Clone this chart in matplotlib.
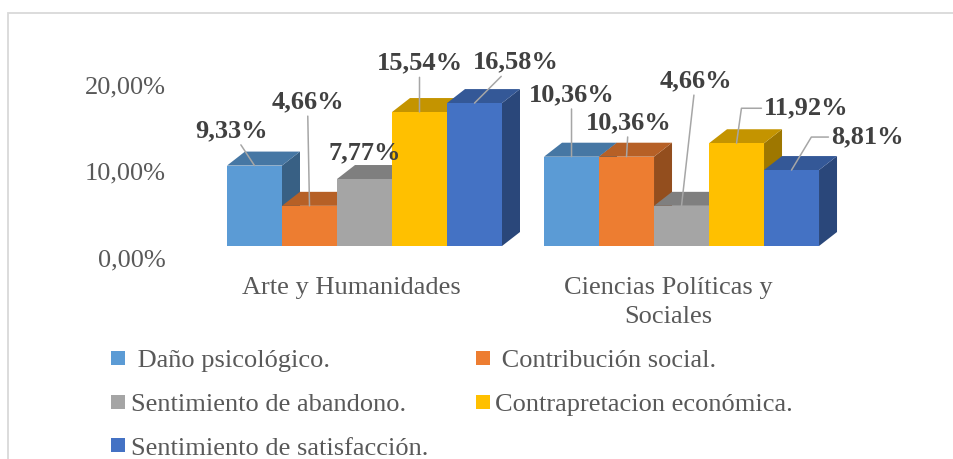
import matplotlib
matplotlib.use('Agg')
import matplotlib.pyplot as plt
import matplotlib.transforms as mtrans
from matplotlib.patches import Polygon, Rectangle
from matplotlib.lines import Line2D
from matplotlib.colors import to_rgb

# data
categories = ['Arte y Humanidades', 'Ciencias Políticas y\nSociales']
series = [' Daño psicológico.', ' Contribución social.', 'Sentimiento de abandono.',
          'Contrapretacion económica.', 'Sentimiento de satisfacción.']
danio = [9.33, 10.36]
contribucion = [4.66, 10.36]
abandono = [7.77, 4.66]
contraprestacion = [15.54, 11.92]
satisfaccion = [16.58, 8.81]
values = [danio, contribucion, abandono, contraprestacion, satisfaccion]
colors = ['#5B9BD5', '#ED7D31', '#A5A5A5', '#FFC000', '#4472C4']
yticks = [0, 10, 20]
ytick_labels = ['0,00%', '10,00%', '20,00%']

# label offsets in pixels from the bar's top-front centre
label_offsets = [[(-23, 35), (0, 62)], [(-2, 104), (2, 34)], [(0, 26), (14, 125)],
                 [(0, 49), (70, 35)], [(41, 41), (76, 33)]]
leader = [['line', 'line'], ['line', 'line'], [None, 'line'],
          ['line', 'angle,angleA=0,angleB=82,rad=0'], ['line', 'angle,angleA=0,angleB=59,rad=0']]

plt.rcParams['font.family'] = ['Liberation Serif', 'DejaVu Serif']
FS = 19
GREY = '#595959'

W, H = 954, 459
fig = plt.figure(figsize=(W / 100, H / 100), dpi=100)
ax = fig.add_axes([180 / W, (H - 246) / H, 720 / W, 206 / H])
px_per_unit = 55.0
ax.set_xlim(-(227 - 180) / px_per_unit, (900 - 227) / px_per_unit)
ax.set_ylim(0, 206 / 8.62)
ax.axis('off')

n = len(series)
gap = 0.764
DX = 18 / 55
DY = 14 / 8.62


def shade(c, f):
    r, g, b = to_rgb(c)
    return (r * f, g * f, b * f)


order = 0
for g in range(len(categories)):
    for s in range(n):
        v = values[s][g]
        x0 = g * (n + gap) + s
        c = colors[s]
        z = 3 * order
        ax.bar(x0, v, width=1, align='edge', color=c, linewidth=0, zorder=z + 2)
        side = Polygon([(x0 + 1, 0), (x0 + 1, v), (x0 + 1 + DX, v + DY), (x0 + 1 + DX, DY)],
                       closed=True, facecolor=shade(c, 0.62), edgecolor='none', zorder=z)
        top = Polygon([(x0, v), (x0 + 1, v), (x0 + 1 + DX, v + DY), (x0 + DX, v + DY)],
                      closed=True, facecolor=shade(c, 0.77), edgecolor='none', zorder=z + 1)
        ax.add_patch(side)
        ax.add_patch(top)
        order += 1

# data labels with leader lines
for g in range(len(categories)):
    for s in range(n):
        v = values[s][g]
        xc = g * (n + gap) + s + 0.5
        kw = {}
        if leader[s][g] is not None:
            ap = dict(arrowstyle='-', color='#A6A6A6', lw=1.1, shrinkA=0, shrinkB=0)
            if leader[s][g] != 'line':
                ap['connectionstyle'] = leader[s][g]
            kw['arrowprops'] = ap
        ax.annotate(('%.2f%%' % v).replace('.', ','), xy=(xc, v), xytext=label_offsets[s][g],
                    textcoords='offset pixels', ha='center', va='center', fontsize=FS,
                    fontweight='bold', color='#404040', zorder=100, **kw)

# y tick labels (sit a little below the front base, like the Excel 3D axis)
tick_tr = mtrans.offset_copy(ax.get_yaxis_transform(), fig=fig, x=-14, y=-14, units='dots')
for t, lab in zip(yticks, ytick_labels):
    ax.text(0, t, lab, transform=tick_tr, ha='right', va='center', fontsize=FS, color=GREY)

# category labels
cat_tr = mtrans.offset_copy(ax.transData, fig=fig, x=-13, y=-31, units='dots')
for g, cat in enumerate(categories):
    xc = g * (n + gap) + n / 2
    ax.text(xc, 0, cat, transform=cat_tr, ha='center', va='top', fontsize=FS,
            color=GREY, linespacing=1.4)

# legend, row-major order like Excel
handles = [Line2D([], [], marker='s', ls='', markersize=10, color=c, markeredgewidth=0)
           for c in colors]
idx = [0, 2, 4, 1, 3]
fig.legend([handles[i] for i in idx], [series[i] for i in idx], loc='upper left',
           bbox_to_anchor=(111 / W, 1 - 349 / H), ncol=2, frameon=False, fontsize=FS,
           handlelength=0.53, handletextpad=0.22, columnspacing=1.8, labelspacing=0.76,
           borderpad=0, borderaxespad=0, labelcolor=GREY)

# chart frame (right and bottom edges fall outside the image)
fig.add_artist(Rectangle((8 / W, -0.2), 1.2, 1.2 - 13 / H, transform=fig.transFigure,
                         fill=False, edgecolor='#D9D9D9', lw=1.3))

fig.savefig('out.png', dpi=100)
